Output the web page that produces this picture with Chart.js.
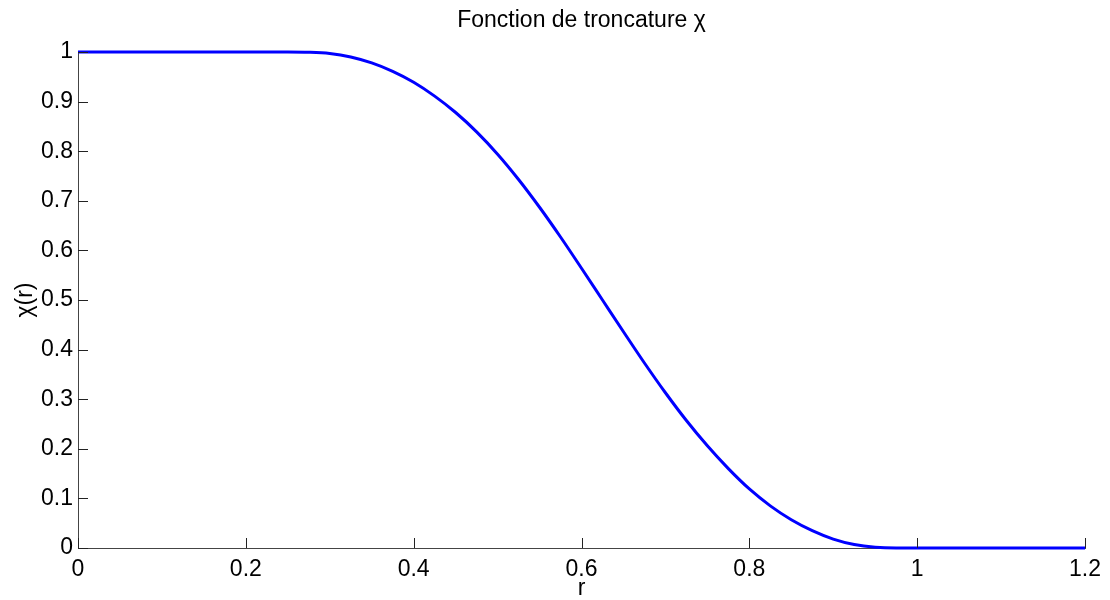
<!DOCTYPE html>
<html lang="fr">
<head>
    <meta charset="UTF-8">
    <title>Fonction de troncature</title>
    <script src="https://cdn.jsdelivr.net/npm/chart.js"></script>
    <style>
        body { margin: 0; padding: 0; background: #fff; }
        .wrap { width: 1110px; height: 600px; }
    </style>
</head>
<body>
    <div class="wrap">
        <canvas id="chiChart" width="1110" height="600"></canvas>
    </div>

    <script>
        // valeurs
        const rValues = [0, 0.1, 0.2, 0.25, 0.275, 0.3, 0.325, 0.35, 0.375, 0.4, 0.425, 0.45, 0.475, 0.5,
                         0.525, 0.55, 0.575, 0.6, 0.625, 0.65, 0.675, 0.7, 0.725, 0.75, 0.775, 0.8,
                         0.825, 0.85, 0.875, 0.9, 0.925, 0.95, 0.975, 1.0, 1.1, 1.2];
        const chiValues = [1, 1, 1, 1, 0.9995, 0.997, 0.99, 0.978, 0.961, 0.939, 0.911, 0.878, 0.839, 0.794,
                           0.743, 0.687, 0.627, 0.564, 0.5, 0.436, 0.373, 0.313, 0.257, 0.206, 0.16, 0.119,
                           0.085, 0.057, 0.035, 0.018, 0.007, 0.0015, 0, 0, 0, 0];
        const xTicks = [0, 0.2, 0.4, 0.6, 0.8, 1, 1.2];
        const yTicks = [0, 0.1, 0.2, 0.3, 0.4, 0.5, 0.6, 0.7, 0.8, 0.9, 1];
        const titleText = 'Fonction de troncature \u03c7';

        const FONT = 'Liberation Sans, Arial, sans-serif';
        const FS = 23;
        const points = rValues.map((r, i) => ({ x: r, y: chiValues[i] }));

        // graduations vers l'interieur + titre centre sur les axes (comme matlab)
        const matlabLook = {
            id: 'matlabLook',
            afterDraw: chart => {
                const ctx = chart.ctx;
                const area = chart.chartArea;
                const xs = chart.scales.x, ys = chart.scales.y;
                ctx.save();
                ctx.strokeStyle = '#222';
                ctx.lineWidth = 1;
                ctx.beginPath();
                xTicks.forEach(v => {
                    const px = Math.round(xs.getPixelForValue(v)) + 0.5;
                    ctx.moveTo(px, area.bottom);
                    ctx.lineTo(px, area.bottom - 10);
                });
                yTicks.forEach(v => {
                    const py = Math.round(ys.getPixelForValue(v)) + 0.5;
                    ctx.moveTo(area.left, py);
                    ctx.lineTo(area.left + 10, py);
                });
                ctx.stroke();

                ctx.fillStyle = '#000';
                ctx.font = FS + 'px ' + FONT;
                ctx.textAlign = 'center';
                ctx.textBaseline = 'alphabetic';
                ctx.fillText(titleText, (area.left + area.right) / 2, 26.5);
                ctx.restore();
            }
        };

        new Chart(document.getElementById('chiChart'), {
            type: 'line',
            data: {
                datasets: [{
                    label: 'chi',
                    data: points,
                    borderColor: '#0000ff',
                    borderWidth: 3,
                    pointRadius: 0,
                    fill: false,
                    cubicInterpolationMode: 'monotone',
                    clip: false
                }]
            },
            options: {
                responsive: false,
                animation: false,
                layout: { padding: { left: 0, right: 25, top: 52, bottom: 0 } },
                plugins: {
                    legend: { display: false },
                    tooltip: { enabled: false },
                    title: { display: false }
                },
                scales: {
                    x: {
                        type: 'linear',
                        min: 0,
                        max: 1.2,
                        afterBuildTicks: s => { s.ticks = xTicks.map(v => ({ value: v })); },
                        afterFit: s => { s.height = 52; },
                        grid: { display: false, drawTicks: false },
                        border: { display: true, color: '#444', width: 1 },
                        ticks: {
                            color: '#000',
                            padding: 8,
                            maxRotation: 0,
                            autoSkip: false,
                            font: { family: FONT, size: FS },
                            callback: v => String(parseFloat(v.toFixed(1)))
                        },
                        title: {
                            display: true,
                            text: 'r',
                            color: '#000',
                            font: { family: FONT, size: FS, lineHeight: 1 },
                            padding: { top: 0, bottom: 0 }
                        }
                    },
                    y: {
                        type: 'linear',
                        min: 0,
                        max: 1,
                        afterBuildTicks: s => { s.ticks = yTicks.map(v => ({ value: v })); },
                        afterFit: s => { s.width = 78; },
                        grid: { display: false, drawTicks: false },
                        border: { display: true, color: '#444', width: 1 },
                        ticks: {
                            color: '#000',
                            padding: 5,
                            autoSkip: false,
                            font: { family: FONT, size: FS },
                            callback: v => String(parseFloat(v.toFixed(1)))
                        },
                        title: {
                            display: true,
                            text: '\u03c7(r)',
                            color: '#000',
                            font: { family: FONT, size: FS, lineHeight: 1.2 },
                            padding: { top: 12, bottom: 0 }
                        }
                    }
                }
            },
            plugins: [matlabLook]
        });
    </script>
</body>
</html>
